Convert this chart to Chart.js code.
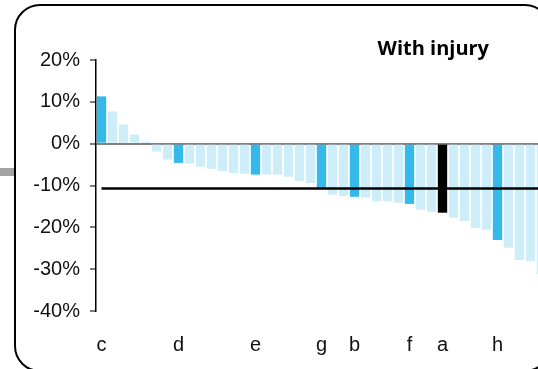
<!DOCTYPE html>
<html>
<head>
<meta charset="utf-8">
<script src="https://cdn.jsdelivr.net/npm/chart.js@4.4.1/dist/chart.umd.min.js"></script>
<style>
  html, body { margin: 0; padding: 0; background: #fff; overflow: hidden; width: 538px; height: 369px; }
  #tab { position: absolute; left: 0; top: 168px; width: 15px; height: 8px; background: #a3a3a3; }
  #frame { position: absolute; left: 14px; top: 4px; width: 537px; height: 368px; box-sizing: border-box;
           border: 2.5px solid #000; border-radius: 26px; }
  #mlbChart { position: absolute; left: 0; top: 0; }
</style>
</head>
<body>
<div id="tab"></div>
<div id="frame"></div>
<canvas id="mlbChart" width="560" height="369"></canvas>
<script>
// Etiquetas de las barras (solo algunas llevan letra)
const categories = ['c', '', '', '', '', '', '', 'd', '', '', '', '', '', '', 'e', '', '', '', '', '', 'g', '', '', 'b', '', '', '', '', 'f', '', '', 'a', '', '', '', '', 'h', '', '', '', ''];

// Variación en % de cada barra
const values = [11.3, 7.7, 4.6, 2.2, 0.5, -1.9, -3.8, -4.6, -4.8, -5.5, -6.0, -6.5, -7.0, -7.2, -7.4, -7.4, -7.4, -7.9, -8.9, -9.4,
  -10.6, -12.2, -12.5, -12.7, -12.9, -13.8, -13.8, -14.1, -14.4, -15.8, -16.3, -16.5, -17.7, -18.5, -20.1, -20.6, -23.0, -24.9, -27.8, -28.1, -31.2];

// Línea de referencia (promedio)
const threshold = -10.7;

// Marcas del eje y
const yTicks = [20, 10, 0, -10, -20, -30, -40];

const chartTitle = 'With injury';

function barColor(label) {
  if (label === 'a') return '#000000';
  if (label !== '') return '#35b9ea';
  return '#cdedf9';
}

// Dibuja la línea horizontal de referencia
const thresholdLine = {
  id: 'thresholdLine',
  afterDatasetsDraw(chart) {
    const { ctx, chartArea, scales: { x, y } } = chart;
    const yy = y.getPixelForValue(threshold);
    ctx.save();
    ctx.strokeStyle = '#000';
    ctx.lineWidth = 2.5;
    ctx.beginPath();
    ctx.moveTo(x.getPixelForValue(0), yy);
    ctx.lineTo(chartArea.right, yy);
    ctx.stroke();
    ctx.restore();
  }
};

// Título dentro del área, arriba a la derecha
const cornerTitle = {
  id: 'cornerTitle',
  afterDraw(chart) {
    const { ctx } = chart;
    ctx.save();
    ctx.font = 'bold 20px "Open Sans"';
    ctx.fillStyle = '#000';
    ctx.textAlign = 'right';
    ctx.textBaseline = 'alphabetic';
    ctx.fillText(chartTitle, 489, 55);
    ctx.restore();
  }
};

new Chart(document.getElementById('mlbChart'), {
  type: 'bar',
  data: {
    labels: categories,
    datasets: [{
      data: values,
      backgroundColor: categories.map(barColor),
      barPercentage: 0.85,
      categoryPercentage: 1.0
    }]
  },
  plugins: [thresholdLine, cornerTitle],
  options: {
    responsive: false,
    animation: false,
    layout: { padding: { top: 60, right: 13, bottom: 0, left: 0 } },
    plugins: {
      legend: { display: false },
      tooltip: { enabled: false },
      title: { display: false }
    },
    scales: {
      x: {
        afterFit: (scale) => { scale.height = 58; },
        grid: { display: false },
        border: { display: false },
        ticks: {
          autoSkip: false,
          maxRotation: 0,
          padding: 14,
          color: '#111',
          font: { family: '"Liberation Sans", Arial, sans-serif', size: 20 }
        }
      },
      y: {
        min: -40,
        max: 20,
        z: 1,
        afterFit: (scale) => { scale.width = 96; },
        afterBuildTicks: (scale) => { scale.ticks = yTicks.map(v => ({ value: v })); },
        border: { display: true, color: '#000', width: 1.5 },
        grid: {
          drawTicks: true,
          tickLength: 6,
          tickColor: '#7a7a7a',
          lineWidth: 2,
          color: (ctx) => ctx.tick && ctx.tick.value === 0 ? '#808080' : 'rgba(0,0,0,0)'
        },
        ticks: {
          padding: 10,
          color: '#111',
          font: { family: '"Liberation Sans", Arial, sans-serif', size: 20 },
          callback: (v) => v + '%'
        }
      }
    }
  }
});
</script>
</body>
</html>
